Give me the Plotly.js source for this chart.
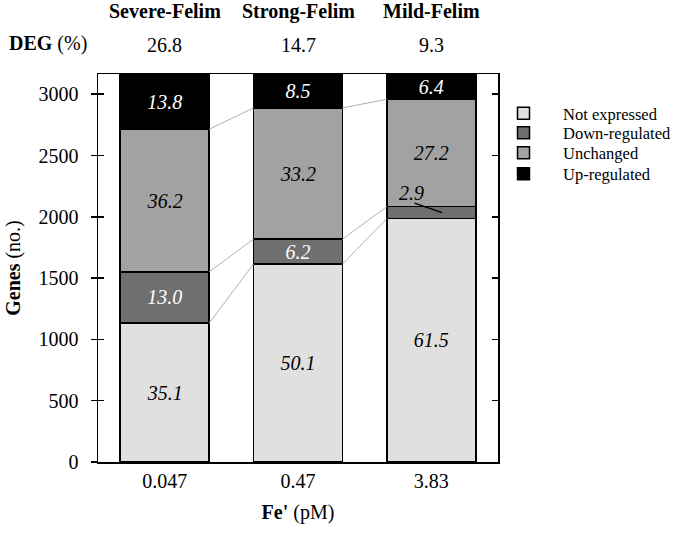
<!DOCTYPE html>
<html>
<head>
<meta charset="utf-8">
<script src="https://cdn.plot.ly/plotly-3.0.1.min.js"></script>
<style>html,body{margin:0;padding:0;background:#fff;}#chart{width:680px;height:534px;}</style>
</head>
<body>
<div id="chart"></div>
<script>
// Data
var categories = ['Severe-Felim', 'Strong-Felim', 'Mild-Felim'];
var feLabels = ['0.047', '0.47', '3.83'];
var degPct = ['26.8', '14.7', '9.3'];
// gene counts
var notExpressed = [1133, 1614, 1986];
var downRegulated = [418, 204, 97];
var unchanged = [1163, 1070, 876];
var upRegulated = [451, 277, 206];
// percentage labels
var notPct = ['35.1', '50.1', '61.5'];
var downPct = ['13.0', '6.2', '2.9'];
var unchPct = ['36.2', '33.2', '27.2'];
var upPct = ['13.8', '8.5', '6.4'];
var yTicks = [0, 500, 1000, 1500, 2000, 2500, 3000];

var FONT = '"Liberation Serif", "Times New Roman", serif';
var barW = 0.667;
var xs = [0, 1, 2];
var yMax = 3165;

function barTrace(name, vals, txt, color, tcolor, leg) {
  return {
    type: 'bar', name: name, x: xs, y: vals, width: barW, legend: leg,
    text: txt, textposition: 'inside', insidetextanchor: 'middle',
    textangle: 0, constraintext: 'none', cliponaxis: true,
    textfont: {family: FONT, size: 20, color: tcolor, style: 'italic'},
    marker: {color: color, line: {color: '#000', width: 1.5}},
    hoverinfo: 'skip'
  };
}

var traces = [
  barTrace('Not expressed', notExpressed, notPct, '#e0e0e0', '#000', 'legend'),
  barTrace('Down-regulated', downRegulated, [downPct[0], downPct[1], ''], '#6f6f6f', '#fff', 'legend2'),
  barTrace('Unchanged', unchanged, unchPct, '#a2a2a2', '#000', 'legend3'),
  barTrace('Up-regulated', upRegulated, upPct, '#000000', '#fff', 'legend4')
];

// connector lines between bars at segment boundaries
var levels = [notExpressed, downRegulated, unchanged];
var cum = [0, 0, 0];
for (var k = 0; k < levels.length; k++) {
  for (var i = 0; i < 3; i++) cum[i] += levels[k][i];
  for (var j = 0; j < 2; j++) {
    traces.push({
      type: 'scatter', mode: 'lines', yaxis: 'y2',
      x: [xs[j] + barW / 2, xs[j + 1] - barW / 2],
      y: [cum[j], cum[j + 1]],
      line: {color: '#b0b0b0', width: 1},
      showlegend: false, hoverinfo: 'skip'
    });
  }
}

var annotations = [];
for (var i = 0; i < 3; i++) {
  annotations.push({
    xref: 'x', yref: 'paper', x: xs[i], y: 1.162, yanchor: 'middle',
    text: '<b>' + categories[i] + '</b>', showarrow: false,
    font: {family: FONT, size: 20, color: '#000'}
  });
  annotations.push({
    xref: 'x', yref: 'paper', x: xs[i], y: 1.075, yanchor: 'middle',
    text: degPct[i], showarrow: false,
    font: {family: FONT, size: 20, color: '#000'}
  });
}
annotations.push({
  xref: 'paper', yref: 'paper', x: -0.228, xanchor: 'left', y: 1.078, yanchor: 'middle',
  text: '<b>DEG</b> (%)', showarrow: false,
  font: {family: FONT, size: 20, color: '#000'}
});
// leader line and label for the small mild down-regulated segment
var tipY = notExpressed[2] + downRegulated[2] / 2;
annotations.push({
  xref: 'x', yref: 'y', x: xs[2] + 0.08, y: tipY,
  text: '', showarrow: true, arrowhead: 0, arrowwidth: 1.5, arrowcolor: '#000',
  ax: -29, ay: -10, standoff: 0, startstandoff: 0
});
annotations.push({
  xref: 'x', yref: 'y', x: xs[2] + 0.08, y: tipY,
  xshift: -31, yshift: 20,
  text: '<i>' + downPct[2] + '</i>', showarrow: false,
  font: {family: FONT, size: 20, color: '#000'}
});

function legendAt(y) {
  return {
    x: 0.965, y: y, xanchor: 'left', yanchor: 'top', itemwidth: 69,
    traceorder: 'normal', font: {family: FONT, size: 16.5, color: '#000'},
    bgcolor: 'rgba(0,0,0,0)'
  };
}

var layout = {
  width: 680, height: 534,
  margin: {l: 98, r: 182, t: 74, b: 72, autoexpand: false},
  paper_bgcolor: '#fff', plot_bgcolor: '#fff',
  barmode: 'stack',
  showlegend: true,
  legend: legendAt(0.9433),
  legend2: legendAt(0.8930),
  legend3: legendAt(0.8415),
  legend4: legendAt(0.7874),
  font: {family: FONT, size: 20, color: '#000'},
  xaxis: {
    range: [-0.5, 2.5], tickvals: xs, ticktext: feLabels,
    ticks: '', showline: true, linecolor: '#000', linewidth: 1.5, mirror: true,
    showgrid: false, zeroline: false, fixedrange: true,
    tickfont: {family: FONT, size: 20, color: '#000'},
    title: {text: "<b>Fe'</b> (pM)", font: {family: FONT, size: 20, color: '#000'}, standoff: 14}
  },
  yaxis: {
    range: [0, yMax], tickvals: yTicks, ticks: 'outside', ticklen: 6, tickwidth: 1.5,
    tickcolor: '#000', showline: true, linecolor: '#000', linewidth: 1.5, mirror: false,
    showgrid: false, zeroline: false, fixedrange: true, ticklabelstandoff: 8,
    tickfont: {family: FONT, size: 20, color: '#000'},
    title: {text: '<b>Genes</b> (no.)', font: {family: FONT, size: 20, color: '#000'}, standoff: 12}
  },
  yaxis2: {
    overlaying: 'y', side: 'left', range: [0, yMax], tickvals: yTicks,
    ticks: 'inside', ticklen: 6, tickwidth: 1.5, tickcolor: '#000',
    showline: true, linecolor: '#000', linewidth: 1.5, mirror: 'ticks',
    showticklabels: false, showgrid: false, zeroline: false, fixedrange: true
  },
  annotations: annotations
};

Plotly.newPlot('chart', traces, layout, {staticPlot: true, displayModeBar: false});
</script>
</body>
</html>
